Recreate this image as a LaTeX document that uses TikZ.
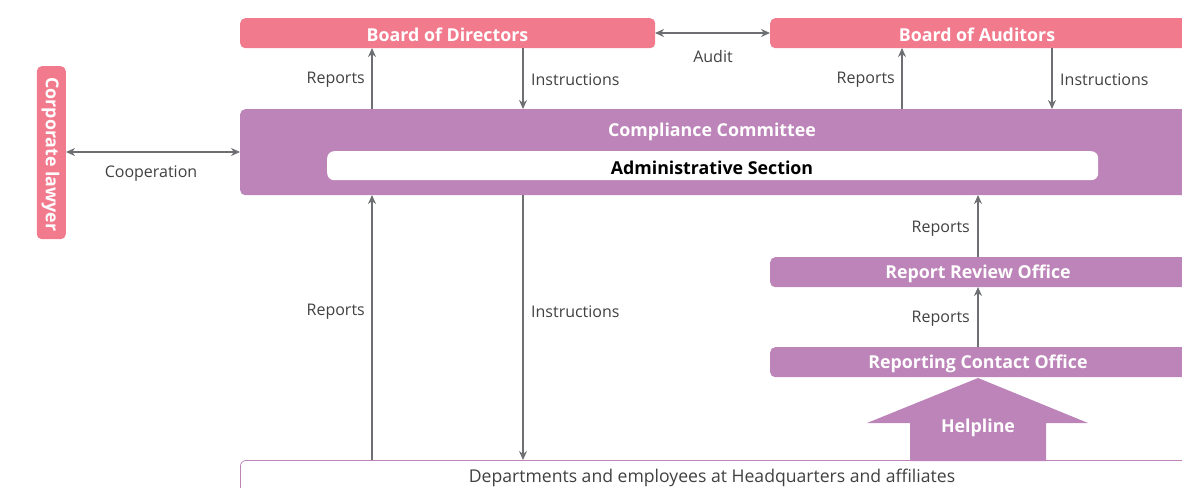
\documentclass[tikz,border=0pt]{standalone}
\usepackage{fontspec}
\setmainfont{Open Sans}
\usetikzlibrary{arrows.meta}
\definecolor{pinkc}{RGB}{242,122,141}
\definecolor{purpc}{RGB}{188,132,184}
\definecolor{arrc}{RGB}{110,111,114}
\definecolor{txtc}{RGB}{65,64,66}
\tikzset{
  pinkbox/.style={fill=pinkc, draw=none, rounded corners=5pt},
  purpbox/.style={fill=purpc, draw=none, rounded corners=5pt},
  ttl/.style={text=white, font=\bfseries\fontsize{17.8}{20}\selectfont, inner sep=0pt, yshift=-2pt},
  conn/.style={draw=arrc, line width=1.4pt, -{Stealth[length=9pt,width=8pt]}},
  conn2/.style={draw=arrc, line width=1.4pt, {Stealth[length=9pt,width=8pt]}-{Stealth[length=9pt,width=8pt]}},
  lbl/.style={text=txtc, font=\fontsize{16}{18}\selectfont, inner sep=0pt, yshift=-1.5pt},
}
\begin{document}
\begin{tikzpicture}[x=1pt,y=-1pt]
\useasboundingbox (0,0) rectangle (1182,487);
\clip (0,0) rectangle (1182,487);
% boxes
\node[pinkbox, minimum width=415pt, minimum height=30pt, anchor=north west] (bod) at (240,18) {};
\node[ttl] (bodt) at (447.5,33) {Board of Directors};
\node[pinkbox, minimum width=420pt, minimum height=30pt, anchor=north west] (boa) at (770,18) {};
\node[ttl] (boat) at (977,33) {Board of Auditors};
\node[pinkbox, minimum width=173pt, minimum height=29pt, rotate=-90, anchor=north west] (law) at (66,66) {};
\node[ttl, rotate=-90, yshift=0pt] (lawt) at (50.5,152.5) {Corporate lawyer};
\node[purpbox, minimum width=950pt, minimum height=86pt, anchor=north west] (cc) at (240,109) {};
\node[ttl] (cct) at (712,130) {Compliance Committee};
\node[fill=white, rounded corners=7pt, minimum width=771pt, minimum height=29pt, anchor=north west] (adm) at (327,151) {};
\node[ttl, text=black] (admt) at (712,166) {Administrative Section};
\node[purpbox, minimum width=420pt, minimum height=30pt, anchor=north west] (rro) at (770,257) {};
\node[ttl] (rrot) at (978,272) {Report Review Office};
\node[purpbox, minimum width=420pt, minimum height=30pt, anchor=north west] (rco) at (770,347) {};
\node[ttl] (rcot) at (978,362) {Reporting Contact Office};
\node[draw=purpc, line width=0.8pt, fill=white, rounded corners=6pt, minimum width=950pt, minimum height=40pt, anchor=north west] (dep) at (240,460) {};
\node[lbl, font=\fontsize{17.6}{20}\selectfont] (dept) at (712,476) {Departments and employees at Headquarters and affiliates};
% helpline arrow
\fill[purpc] (978,378) -- (1088,423) -- (1046,423) -- (1046,461) -- (910,461) -- (910,423) -- (867,423) -- cycle;
\node[ttl] (help) at (978,426) {Helpline};
% coordinates
\coordinate (bodR) at (372,48); \coordinate (ccR) at (372,109);
\coordinate (bodI) at (523,48); \coordinate (ccI) at (523,109);
\coordinate (boaR) at (902,48); \coordinate (ccR2) at (902,109);
\coordinate (boaI) at (1052,48); \coordinate (ccI2) at (1052,109);
\coordinate (ccB1) at (372,195); \coordinate (depT1) at (372,460);
\coordinate (ccB2) at (523,195); \coordinate (depT2) at (523,460);
\coordinate (ccB3) at (978,195); \coordinate (rroT) at (978,257);
\coordinate (rroB) at (978,287); \coordinate (rcoT) at (978,347);
\coordinate (bodE) at (655,33); \coordinate (boaW) at (770,33);
\coordinate (lawE) at (66,152); \coordinate (ccW) at (240,152);
% connectors
\draw[conn2] (bodE) -- (boaW);
\node[lbl] (audit) at (713,55) {Audit};
\draw[conn] (ccR) -- (bodR);
\node[lbl, anchor=east] (l1) at (365,78) {Reports};
\draw[conn] (bodI) -- (ccI);
\node[lbl, anchor=west] (l2) at (531,78) {Instructions};
\draw[conn] (ccR2) -- (boaR);
\node[lbl, anchor=east] (l3) at (895,78) {Reports};
\draw[conn] (boaI) -- (ccI2);
\node[lbl, anchor=west] (l4) at (1060,78) {Instructions};
\draw[conn2] (lawE) -- (ccW);
\node[lbl] (coop) at (151,172) {Cooperation};
\draw[conn] (depT1) -- (ccB1);
\node[lbl, anchor=east] (l5) at (365,310) {Reports};
\draw[conn] (ccB2) -- (depT2);
\node[lbl, anchor=west] (l6) at (531,310) {Instructions};
\draw[conn] (rroT) -- (ccB3);
\node[lbl, anchor=east] (l7) at (970,227) {Reports};
\draw[conn] (rcoT) -- (rroB);
\node[lbl, anchor=east] (l8) at (970,317) {Reports};
\end{tikzpicture}
\end{document}
